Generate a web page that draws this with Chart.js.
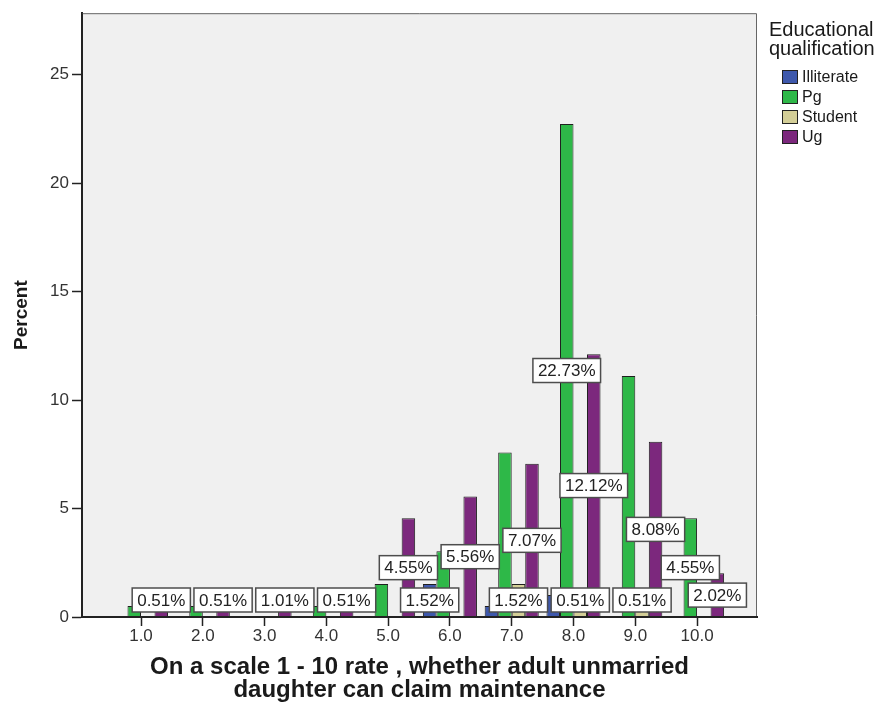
<!DOCTYPE html>
<html>
<head>
<meta charset="utf-8">
<title>Educational qualification</title>
<script src="https://cdn.jsdelivr.net/npm/chart.js@4.4.0/dist/chart.umd.min.js"></script>
<style>
    html, body { margin: 0; padding: 0; background: #fff; }
    #wrap { width: 883px; height: 702px; }
</style>
</head>
<body>
<div id="wrap"><canvas id="chart" width="883" height="702"></canvas></div>
<script>
// rating scale (x) and percent of all respondents per group
const categories = [1, 2, 3, 4, 5, 6, 7, 8, 9, 10];
const tickLabels = ['1.0', '2.0', '3.0', '4.0', '5.0', '6.0', '7.0', '8.0', '9.0', '10.0'];
const yTicks = [0, 5, 10, 15, 20, 25];

const illiterate = [null, null, null, null, null, 1.52, 0.51, 1.01, null, null];
const pg = [0.51, 0.51, null, 0.51, 1.52, 3.03, 7.58, 22.73, 11.11, 4.55];
const student = [null, null, null, null, null, null, 1.52, 0.51, 0.51, null];
const ug = [0.51, 0.51, 1.01, 0.51, 4.55, 5.56, 7.07, 12.12, 8.08, 2.02];

const seriesNames = ['Illiterate', 'Pg', 'Student', 'Ug'];
const seriesColors = ['#3e58ac', '#2eb848', '#d3ce97', '#7c287d'];
const legendTitle = ['Educational', 'qualification'];
const xTitle = ['On a scale 1 - 10 rate , whether adult unmarried', 'daughter can claim maintenance'];
const yTitle = 'Percent';

const FONT = '"Liberation Sans", Arial, sans-serif';

function toPoints(values) {
    return categories.map((c, i) => ({ x: c, y: values[i] }));
}

// grey plot background, frame, value labels and legend
const spssLook = {
    id: 'spssLook',
    beforeDatasetsDraw(chart) {
        const { ctx, chartArea: a } = chart;
        ctx.save();
        ctx.fillStyle = '#f0f0f0';
        ctx.fillRect(a.left, a.top, a.right - a.left, a.bottom - a.top);
        ctx.restore();
    },
    afterDatasetsDraw(chart) {
        const { ctx, chartArea: a } = chart;
        const yScale = chart.scales.y;

        ctx.save();
        ctx.strokeStyle = '#666';
        ctx.lineWidth = 1;
        ctx.beginPath();
        ctx.moveTo(a.left, a.top + 0.5);
        ctx.lineTo(a.right - 0.5, a.top + 0.5);
        ctx.lineTo(a.right - 0.5, a.bottom);
        ctx.stroke();
        ctx.strokeStyle = '#222';
        ctx.lineWidth = 2;
        ctx.beginPath();
        ctx.moveTo(a.left, a.top);
        ctx.lineTo(a.left, a.bottom);
        ctx.lineTo(a.right, a.bottom);
        ctx.stroke();

        // labels: later groups first, skip any that would collide
        ctx.font = '17px ' + FONT;
        ctx.textAlign = 'center';
        ctx.textBaseline = 'middle';
        const placed = [];
        const h = 24;
        [3, 2, 1, 0].forEach(di => {
            const meta = chart.getDatasetMeta(di);
            const values = chart.data.datasets[di].data;
            meta.data.forEach((bar, i) => {
                const v = values[i].y;
                if (v === null || v === undefined) return;
                const text = v.toFixed(2) + '%';
                const w = ctx.measureText(text).width + 10;
                let cy = yScale.getPixelForValue(v / 2);
                cy = Math.min(cy, a.bottom - 5 - h / 2);
                const box = { l: bar.x - w / 2, r: bar.x + w / 2, t: cy - h / 2, b: cy + h / 2 };
                const hit = placed.some(p => box.l < p.r && box.r > p.l && box.t < p.b && box.b > p.t);
                if (hit) return;
                placed.push(box);
                ctx.fillStyle = '#fff';
                ctx.fillRect(box.l, box.t, w, h);
                ctx.strokeStyle = '#4d4d4d';
                ctx.lineWidth = 1.5;
                ctx.strokeRect(box.l, box.t, w, h);
                ctx.fillStyle = '#222';
                ctx.fillText(text, bar.x, cy + 1);
            });
        });
        ctx.restore();
    },
    afterDraw(chart) {
        const { ctx } = chart;
        ctx.save();
        ctx.fillStyle = '#1a1a1a';
        ctx.textAlign = 'left';
        ctx.textBaseline = 'middle';
        ctx.font = '20px ' + FONT;
        legendTitle.forEach((line, i) => ctx.fillText(line, 769, 30 + i * 19));
        ctx.font = '16px ' + FONT;
        chart.data.datasets.forEach((ds, i) => {
            const y = 77 + i * 20;
            ctx.fillStyle = ds.backgroundColor;
            ctx.fillRect(782, y - 7, 16, 14);
            ctx.strokeStyle = '#222';
            ctx.lineWidth = 1;
            ctx.strokeRect(782.5, y - 6.5, 15, 13);
            ctx.fillStyle = '#1a1a1a';
            ctx.fillText(ds.label, 802, y + 1);
        });
        ctx.restore();
    }
};

const ctx = document.getElementById('chart').getContext('2d');
const seriesValues = [illiterate, pg, student, ug];

new Chart(ctx, {
    type: 'bar',
    data: {
        datasets: seriesValues.map((vals, i) => ({
            label: seriesNames[i],
            data: toPoints(vals),
            backgroundColor: seriesColors[i],
            borderColor: '#1f1f1f',
            borderWidth: 1,
            categoryPercentage: 0.875,
            barPercentage: 1.0
        }))
    },
    options: {
        responsive: false,
        animation: false,
        devicePixelRatio: 1,
        layout: { padding: { top: 10, right: 126, left: 0, bottom: 0 } },
        plugins: {
            legend: { display: false },
            tooltip: { enabled: false }
        },
        scales: {
            x: {
                type: 'linear',
                offset: false,
                min: 0.045,
                max: 10.97,
                afterBuildTicks: scale => { scale.ticks = categories.map(v => ({ value: v })); },
                afterFit: scale => { scale.height = 85; },
                grid: { offset: false, drawOnChartArea: false, tickLength: 9, tickColor: '#222', tickWidth: 1.5 },
                border: { display: true, color: '#222', width: 2 },
                ticks: {
                    color: '#333',
                    padding: 0,
                    maxRotation: 0,
                    font: { family: FONT, size: 17 },
                    callback: value => tickLabels[categories.indexOf(value)]
                },
                title: {
                    display: true,
                    text: xTitle,
                    color: '#1a1a1a',
                    padding: 0,
                    font: { family: FONT, size: 24, weight: 'bold', lineHeight: 0.96 }
                }
            },
            y: {
                min: 0,
                max: 27.84,
                afterBuildTicks: scale => { scale.ticks = yTicks.map(v => ({ value: v })); },
                afterFit: scale => { scale.width = 82; },
                grid: { drawOnChartArea: false, tickLength: 10, tickColor: '#222', tickWidth: 1.5 },
                border: { display: true, color: '#222', width: 2 },
                ticks: {
                    color: '#333',
                    padding: 3,
                    font: { family: FONT, size: 17 }
                },
                title: {
                    display: true,
                    text: yTitle,
                    color: '#1a1a1a',
                    padding: { top: 10, bottom: 0 },
                    font: { family: FONT, size: 19, weight: 'bold' }
                }
            }
        }
    },
    plugins: [spssLook]
});
</script>
</body>
</html>
